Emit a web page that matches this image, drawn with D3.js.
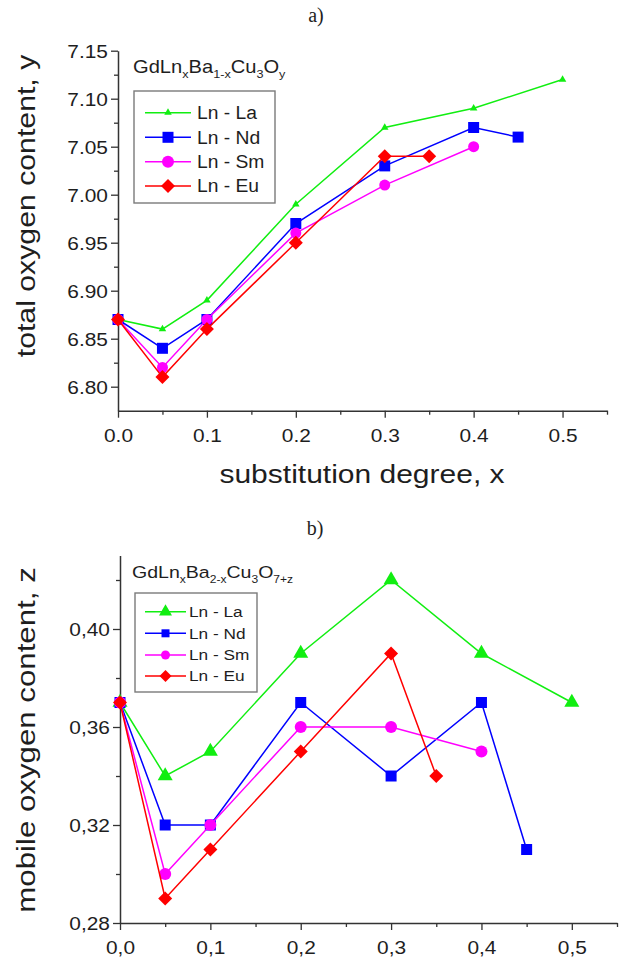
<!DOCTYPE html>
<html>
<head>
<meta charset="utf-8">
<script src="https://cdn.jsdelivr.net/npm/d3@7"></script>
<style>
    body { margin: 0; background: #fff; }
    svg { display: block; }
</style>
</head>
<body>
<svg id="fig" width="625" height="959"></svg>
<script>
// substitution degree x for each series
const xLa = [0, 0.05, 0.1, 0.2, 0.3, 0.4, 0.5]
const xNd = [0, 0.05, 0.1, 0.2, 0.3, 0.4, 0.45]
const xSm = [0, 0.05, 0.1, 0.2, 0.3, 0.4]
const xEu = [0, 0.05, 0.1, 0.2, 0.3, 0.35]

// a) total oxygen content, y
const totalLa = [6.87, 6.86, 6.89, 6.99, 7.07, 7.09, 7.12]
const totalNd = [6.87, 6.84, 6.87, 6.97, 7.03, 7.07, 7.06]
const totalSm = [6.87, 6.82, 6.87, 6.96, 7.01, 7.05]
const totalEu = [6.87, 6.81, 6.86, 6.95, 7.04, 7.04]

// b) mobile oxygen content, z
const mobileLa = [0.37, 0.34, 0.35, 0.39, 0.42, 0.39, 0.37]
const mobileNd = [0.37, 0.32, 0.32, 0.37, 0.34, 0.37, 0.31]
const mobileSm = [0.37, 0.30, 0.32, 0.36, 0.36, 0.35]
const mobileEu = [0.37, 0.29, 0.31, 0.35, 0.39, 0.34]

const seriesNames = ['Ln - La', 'Ln - Nd', 'Ln - Sm', 'Ln - Eu']
const seriesColours = ['#11ee11', '#0000ff', '#ff00ff', '#ff0000']
const seriesSymbols = ['triangle', 'square', 'circle', 'diamond']

const xMajorTicks = [0, 0.1, 0.2, 0.3, 0.4, 0.5]
const xMinorTicks = [0.05, 0.15, 0.25, 0.35, 0.45, 0.55]
const yTotalTicks = [6.80, 6.85, 6.90, 6.95, 7.00, 7.05, 7.10, 7.15]
const yTotalMinor = [6.825, 6.875, 6.925, 6.975, 7.025, 7.075, 7.125]
const zMobileTicks = [0.28, 0.32, 0.36, 0.40]
const zMobileMinor = [0.30, 0.34, 0.38, 0.42]

const svg = d3.select('#fig')
const sans = '"Liberation Sans", Arial, sans-serif'
const serif = '"Liberation Serif", "Times New Roman", serif'
const ink = '#1e1e1e'
const axisInk = '#333'

const addText = (g, x, y, str, { size = 18, anchor = 'start', rotate = 0, sx = 1.15, family = sans } = {}) =>
    g.append('text')
        .attr('transform', `translate(${x},${y}) rotate(${rotate}) scale(${sx},1)`)
        .attr('text-anchor', anchor)
        .style('font-family', family)
        .style('font-size', `${size}px`)
        .attr('fill', ink)
        .text(str)

const addFormula = (g, x, y, parts, { size = 17, subSize = 11, sx = 1.12 } = {}) => {
    const t = g.append('text')
        .attr('transform', `translate(${x},${y}) scale(${sx},1)`)
        .style('font-family', sans)
        .attr('fill', ink)
    parts.forEach(([txt, isSub]) => {
        t.append('tspan')
            .style('font-size', `${isSub ? subSize : size}px`)
            .attr('dy', isSub ? 5 : -5)
            .text(txt)
    })
    t.select('tspan').attr('dy', 0)
}

const markerPath = (symbol, width) => {
    if (symbol === 'triangle') return d3.symbol(d3.symbolTriangle, width * width * Math.sqrt(3) / 4)()
    if (symbol === 'square') return d3.symbol(d3.symbolSquare, width * width)()
    if (symbol === 'circle') return d3.symbol(d3.symbolCircle, Math.PI * width * width / 4)()
    // diamond: square turned by 45 degrees, width measured corner to corner
    return d3.symbol(d3.symbolSquare, width * width / 2)()
}

const addMarker = (g, symbol, width, colour, cx, cy) => {
    g.append('path')
        .attr('d', markerPath(symbol, width))
        .attr('transform', `translate(${cx},${cy})${symbol === 'diamond' ? ' rotate(45)' : ''}`)
        .attr('fill', colour)
}

const styleAxis = g => {
    g.select('.domain').attr('stroke', axisInk).attr('stroke-width', 1.5)
    g.selectAll('.tick line').attr('stroke', axisInk).attr('stroke-width', 1.3)
}

const drawPanel = ({
    x, y, xDomainY, yDomainX, xFormat, yTicks, yMinor, yFormat,
    seriesX, seriesY, markerWidths, tickLabelSx
}) => {
    const g = svg.append('g')

    // x axis
    g.append('g')
        .attr('transform', `translate(0,${xDomainY})`)
        .call(d3.axisBottom(x).tickValues(xMajorTicks).tickSize(7).tickSizeOuter(0).tickFormat(xFormat))
        .call(a => {
            a.selectAll('.tick text')
                .attr('y', null).attr('dy', null)
                .attr('transform', `translate(0,31) scale(${tickLabelSx},1)`)
                .style('font-family', sans).style('font-size', '18.5px').attr('fill', ink)
            styleAxis(a)
        })
    g.append('g')
        .attr('transform', `translate(0,${xDomainY})`)
        .call(d3.axisBottom(x).tickValues(xMinorTicks).tickSize(4).tickSizeOuter(0).tickFormat(''))
        .call(a => { a.select('.domain').remove(); styleAxis(a) })

    // y axis
    g.append('g')
        .attr('transform', `translate(${yDomainX},0)`)
        .call(d3.axisLeft(y).tickValues(yTicks).tickSize(7).tickSizeOuter(0).tickFormat(yFormat))
        .call(a => {
            a.selectAll('.tick text')
                .attr('x', null)
                .attr('dy', '0.36em')
                .attr('transform', `translate(-10,0) scale(${tickLabelSx},1)`)
                .style('font-family', sans).style('font-size', '18.5px').attr('fill', ink)
            styleAxis(a)
        })
    g.append('g')
        .attr('transform', `translate(${yDomainX},0)`)
        .call(d3.axisLeft(y).tickValues(yMinor).tickSize(4).tickSizeOuter(0).tickFormat(''))
        .call(a => { a.select('.domain').remove(); styleAxis(a) })

    // series: line then markers, in legend order
    seriesNames.forEach((name, i) => {
        const pts = seriesX[i].map((xv, j) => [x(xv), y(seriesY[i][j])])
        const s = g.append('g').attr('class', `series-${i}`)
        s.append('path')
            .attr('d', d3.line()(pts))
            .attr('fill', 'none')
            .attr('stroke', seriesColours[i])
            .attr('stroke-width', 1.5)
        pts.forEach(([cx, cy]) => addMarker(s, seriesSymbols[i], markerWidths[i], seriesColours[i], cx, cy))
    })
    return g
}

const drawLegend = ({ box, rowY, lineX, textX, markerWidths, size, sx }) => {
    const g = svg.append('g')
    g.append('rect')
        .attr('x', box[0]).attr('y', box[1])
        .attr('width', box[2] - box[0]).attr('height', box[3] - box[1])
        .attr('fill', 'none').attr('stroke', '#7a7a7a').attr('stroke-width', 1.4)
    seriesNames.forEach((name, i) => {
        g.append('line')
            .attr('x1', lineX[0]).attr('x2', lineX[1])
            .attr('y1', rowY[i]).attr('y2', rowY[i])
            .attr('stroke', seriesColours[i]).attr('stroke-width', 1.5)
        addMarker(g, seriesSymbols[i], markerWidths[i], seriesColours[i], (lineX[0] + lineX[1]) / 2, rowY[i])
        addText(g, textX, rowY[i] + size * 0.36, name, { size, sx })
    })
}

const commaFormat = spec => d => d3.format(spec)(d).replace('.', ',')

// ---------- a) ----------
const xTop = d3.scaleLinear().domain([0, 0.55]).range([118, 607])
const yTop = d3.scaleLinear().domain([6.775, 7.15]).range([410.7, 50.7])

addText(svg, 316, 22, 'a)', { size: 20, anchor: 'middle', sx: 1, family: serif })
drawPanel({
    x: xTop, y: yTop, xDomainY: 410.7, yDomainX: 118,
    xFormat: d3.format('.1f'),
    yTicks: yTotalTicks, yMinor: yTotalMinor, yFormat: d3.format('.2f'),
    seriesX: [xLa, xNd, xSm, xEu],
    seriesY: [totalLa, totalNd, totalSm, totalEu],
    markerWidths: [7.5, 11, 11, 14],
    tickLabelSx: 1.13
})
addText(svg, 35, 206, 'total oxygen content, y', { size: 25, anchor: 'middle', rotate: -90, sx: 1.21 })
addText(svg, 362, 483, 'substitution degree, x', { size: 25, anchor: 'middle', sx: 1.2 })
addFormula(svg, 133, 73, [['GdLn'], ['x', true], ['Ba'], ['1-x', true], ['Cu'], ['3', true], ['O'], ['y', true]],
    { size: 17.5, subSize: 11, sx: 1.15 })
drawLegend({
    box: [134, 91, 275, 203], rowY: [112.7, 137.3, 161.7, 186],
    lineX: [145, 191], textX: 197, markerWidths: [7.5, 11, 12, 14], size: 18, sx: 1.07
})

// ---------- b) ----------
const xBottom = d3.scaleLinear().domain([0, 0.55]).range([120, 617])
const yBottom = d3.scaleLinear().domain([0.28, 0.43]).range([923, 555.5])

addText(svg, 315, 535, 'b)', { size: 20, anchor: 'middle', sx: 1, family: serif })
drawPanel({
    x: xBottom, y: yBottom, xDomainY: 923, yDomainX: 120,
    xFormat: commaFormat('.1f'),
    yTicks: zMobileTicks, yMinor: zMobileMinor, yFormat: commaFormat('.2f'),
    seriesX: [xLa, xNd, xSm, xEu],
    seriesY: [mobileLa, mobileNd, mobileSm, mobileEu],
    markerWidths: [15, 11, 12, 14],
    tickLabelSx: 1.13
})
addText(svg, 35, 740, 'mobile oxygen content, z', { size: 25, anchor: 'middle', rotate: -90, sx: 1.25 })
addFormula(svg, 132, 578, [['GdLn'], ['x', true], ['Ba'], ['2-x', true], ['Cu'], ['3', true], ['O'], ['7+z', true]],
    { size: 17, subSize: 10.5, sx: 1.15 })
drawLegend({
    box: [135, 593, 257, 692], rowY: [611.7, 633.3, 655, 676],
    lineX: [145, 186], textX: 189, markerWidths: [13, 8, 9, 12], size: 15, sx: 1.15
})
</script>
</body>
</html>
